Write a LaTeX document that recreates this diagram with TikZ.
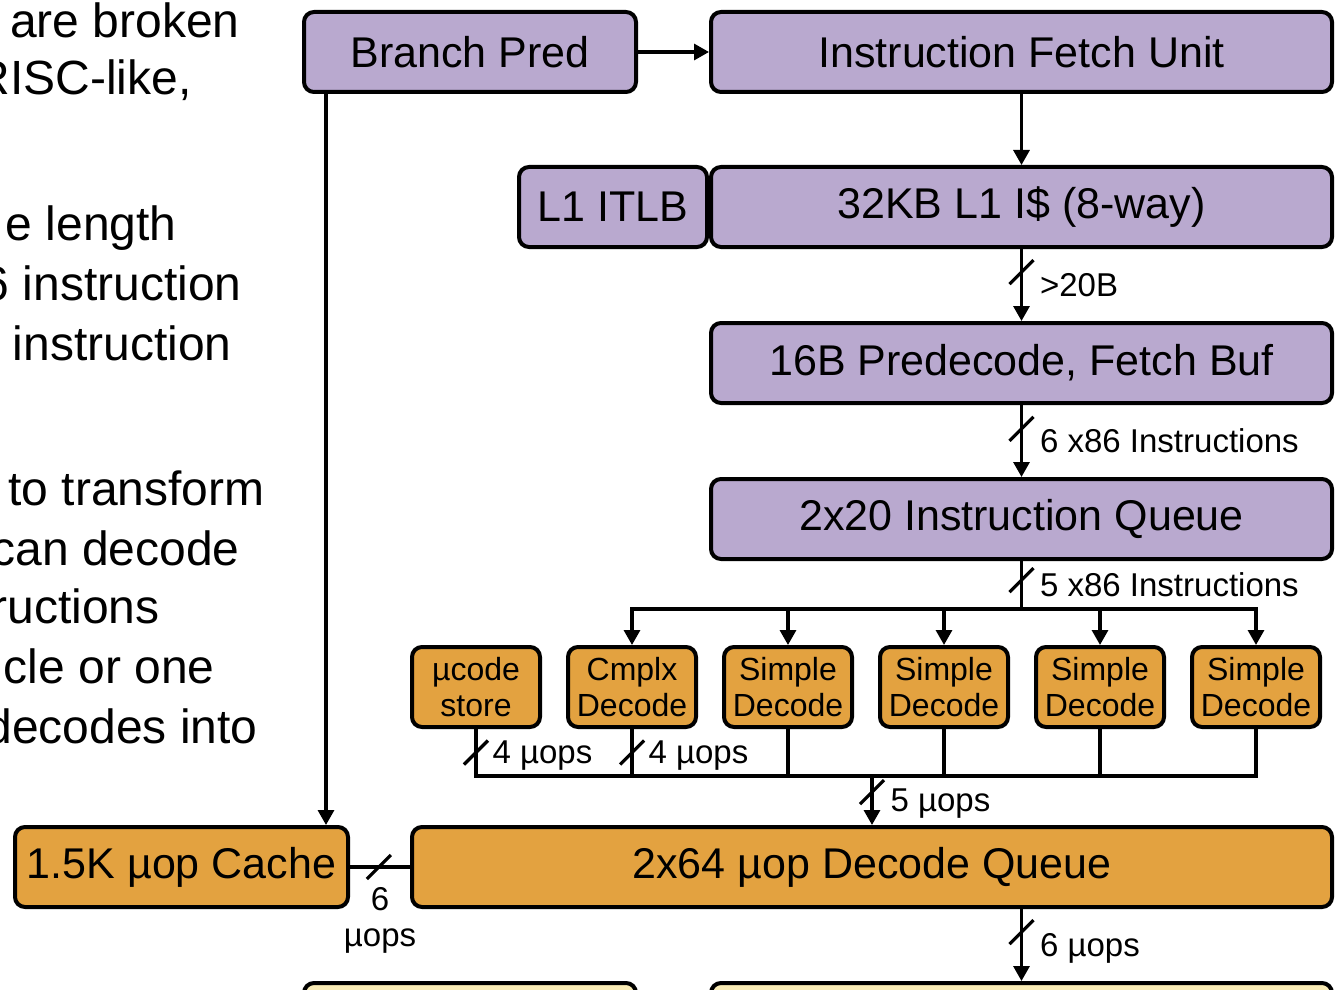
\documentclass[tikz,border=0pt]{standalone}
\usepackage{fontspec}
\setmainfont{Liberation Sans}
\usepackage{tikz}
\usetikzlibrary{arrows.meta,positioning}

\definecolor{fetchpurple}{RGB}{185,169,207}
\definecolor{decodeorange}{RGB}{227,162,64}
\definecolor{renameyellow}{RGB}{249,235,181}

% short slash across a bus line
\newcommand{\busmark}[1]{\draw[wire] (#1) +(-12,12) -- +(12,-12);}

\begin{document}
\begin{tikzpicture}[x=0.5pt,y=-0.5pt,>={Triangle[width=8pt,length=7.5pt]},
	wire/.style={line width=1.6pt},
	main node/.style={draw, line width=2pt, rounded corners=5pt, inner sep=0pt, minimum height=40pt, font=\fontsize{21.5}{24}\selectfont},
	fetch node/.style={main node, fill=fetchpurple},
	decode node/.style={main node, fill=decodeorange},
	small node/.style={decode node, minimum width=64pt, align=center, font=\fontsize{16}{18}\selectfont},
	bus label/.style={anchor=west, xshift=8.5pt, inner sep=0pt, text depth=0pt, font=\fontsize{16.5}{18}\selectfont},
	stack label/.style={anchor=north, yshift=-9.5pt, inner sep=0pt, align=center, font=\fontsize{16.5}{18}\selectfont},
	slide text/.style={anchor=base east, inner sep=0pt, font=\fontsize{24}{28}\selectfont}]
				\useasboundingbox (0,0) rectangle (1339,990);
				\clip (0,0) rectangle (1339,990);
				
				% bullet text running off the left edge
				\node[slide text] at (240,38) {are broken};
				\node[slide text] at (192,95) {RISC-like,};
				\node[slide text] at (177,241) {e length};
				\node[slide text] at (242,300) {6 instruction};
				\node[slide text] at (232,360) {instruction};
				\node[slide text] at (265,505) {to transform};
				\node[slide text] at (240,565) {can decode};
				\node[slide text] at (160,623) {ructions};
				\node[slide text] at (215,683) {cle or one};
				\node[slide text] at (258,743) {decodes into};
				
				% fetch
				\node[fetch node, minimum width=166pt] (1) at (470,52) {Branch Pred};
				\node[fetch node, minimum width=310.5pt] (2) at (1021.5,52) {Instruction Fetch Unit};
				\node[fetch node, minimum width=310.5pt] (4) [below=35.5pt of 2] {32KB L1 I\$ (8-way)};
				\node[fetch node, minimum width=94pt] (3) [left=0pt of 4] {L1 ITLB};
				\node[fetch node, minimum width=310.5pt] (5) [below=36pt of 4] {16B Predecode, Fetch Buf};
				\node[fetch node, minimum width=310.5pt] (6) [below=36pt of 5] {2x20 Instruction Queue};
				
				% decoders
				\node[small node] (7) at (476,687) {µcode\\store};
				\node[small node] (8) [right=12pt of 7] {Cmplx\\Decode};
				\node[small node] (9) [right=12pt of 8] {Simple\\Decode};
				\node[small node] (10) [right=12pt of 9] {Simple\\Decode};
				\node[small node] (11) [right=12pt of 10] {Simple\\Decode};
				\node[small node] (12) [right=12pt of 11] {Simple\\Decode};
				
				\node[decode node, minimum width=166.5pt] (13) at (181.5,867) {1.5K µop Cache};
				\node[decode node, minimum width=460pt] (14) at (872,867) {2x64 µop Decode Queue};
				
				\node[main node, fill=renameyellow, minimum width=166pt, anchor=north] (15) at (470,981) {};
				\node[main node, fill=renameyellow, minimum width=310.5pt, anchor=north] (16) at (1021.5,981) {};
				
				\coordinate (bus) at (1021.5,609);
				\coordinate (sum) at (872,776);
				\coordinate (drop) at ([xshift=12pt]1.south west);
				
				\path[wire,->]
				(1) edge (2)
				(2) edge (4)
				(drop) edge (drop |- 13.north);
				
				\draw[wire,->] (4) -- coordinate[pos=.32] (s1) node[bus label] {>20B} (5);
				\draw[wire,->] (5) -- coordinate[pos=.33] (s2) node[bus label] {6 x86 Instructions} (6);
				\draw[wire] (6) -- coordinate[pos=.4] (s3) node[bus label] {5 x86 Instructions} (bus);
				\draw[wire, line cap=rect] (8.north |- bus) -- (12.north |- bus);
				\foreach \n in {8,...,12}
				\draw[wire,->] (\n.north |- bus) -- (\n);
				
				\draw[wire] (7) -- coordinate (s4) node[bus label, xshift=-1pt] {4 µops} (7 |- sum) -- (12 |- sum) -- (12);
				\draw[wire] (8) -- coordinate (s5) node[bus label, xshift=-1pt] {4 µops} (8 |- sum);
				\foreach \n in {9,10,11}
				\draw[wire] (\n) -- (\n |- sum);
				\draw[wire,->] (sum) -- coordinate[pos=.33] (s6) node[bus label] {5 µops} (14);
				
				\draw[wire] (13) -- coordinate[pos=.48] (s7) node[stack label] {6\\µops} (14);
				\draw[wire,->] (16.north |- 14.south) -- coordinate[pos=.32] (s8) node[bus label] {6 µops} (16.north);
				
				\foreach \s in {1,...,8}
				{\busmark{s\s}}
				
\end{tikzpicture}
\end{document}
